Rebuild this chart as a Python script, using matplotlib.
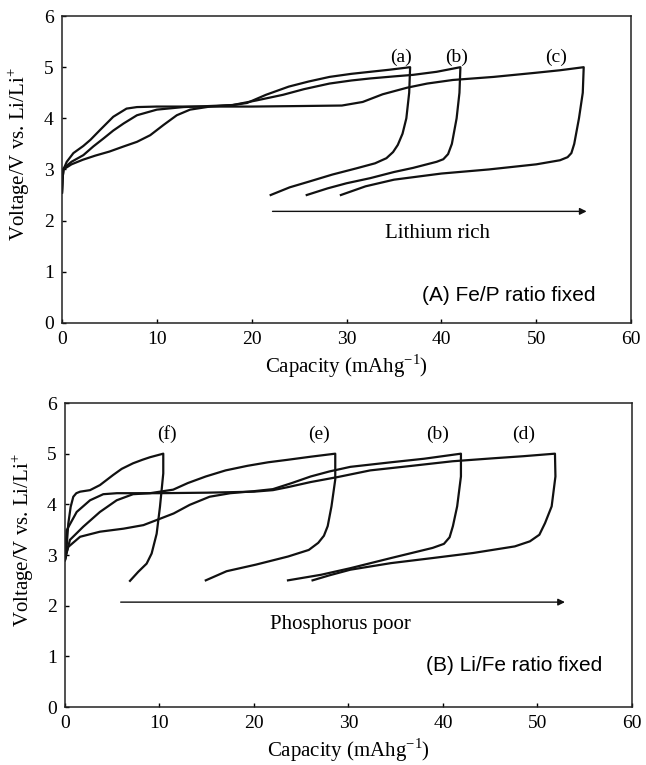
import matplotlib.pyplot as plt

# (A) Fe/P ratio fixed -- charge then discharge
cap_a = [0.0, 0.05, 0.15, 1.0, 2.2, 3.5, 5.0, 6.5, 7.9, 9.3, 10.7, 12.1, 13.5, 15.6, 18.0, 19.5, 21.5,
         23.9, 26.0, 28.2, 30.5, 32.5, 34.5, 36.7,
         36.7, 36.6, 36.3, 35.9, 35.4, 34.9, 34.2, 33.0, 31.0, 28.5, 26.0, 24.0, 22.0]
volt_a = [2.55, 2.8, 3.0, 3.1, 3.19, 3.27, 3.35, 3.45, 3.54, 3.67, 3.87, 4.06, 4.17, 4.23, 4.26, 4.3, 4.46,
          4.62, 4.72, 4.81, 4.87, 4.91, 4.95, 5.0,
          5.0, 4.5, 4.0, 3.7, 3.48, 3.34, 3.22, 3.12, 3.02, 2.9, 2.76, 2.65, 2.5]

cap_b = [0.0, 0.05, 0.15, 1.0, 2.25, 3.3, 4.4, 5.4, 6.5, 7.9, 10.0, 12.8, 15.5, 18.0, 20.5, 23.3, 25.5,
         28.2, 30.5, 32.5, 35.0, 37.0, 39.5, 42.0,
         42.0, 41.9, 41.6, 41.1, 40.7, 40.2, 39.5, 37.0, 35.0, 32.5, 30.0, 28.0, 25.8]
volt_b = [2.55, 2.8, 3.02, 3.15, 3.28, 3.45, 3.61, 3.76, 3.9, 4.06, 4.17, 4.22, 4.24, 4.26, 4.35, 4.46, 4.57,
          4.68, 4.74, 4.78, 4.82, 4.85, 4.91, 5.0,
          5.0, 4.5, 4.0, 3.5, 3.3, 3.2, 3.15, 3.03, 2.95, 2.83, 2.73, 2.63, 2.5]

cap_c = [0.0, 0.05, 0.15, 0.5, 1.2, 2.25, 3.0, 4.0, 5.4, 6.8, 7.9, 10.0, 15.0, 20.0, 25.0, 29.5, 31.7,
         33.8, 36.4, 38.5, 41.2, 45.5, 49.9, 52.5, 55.0,
         55.0, 54.9, 54.5, 54.0, 53.7, 53.3, 52.5, 50.0, 45.0, 40.0, 35.0, 32.0, 29.4]
volt_c = [2.55, 2.8, 3.0, 3.15, 3.32, 3.46, 3.58, 3.77, 4.03, 4.19, 4.22, 4.23, 4.23, 4.23, 4.24, 4.25, 4.32,
          4.47, 4.6, 4.68, 4.75, 4.81, 4.89, 4.94, 5.0,
          5.0, 4.5, 4.0, 3.5, 3.32, 3.24, 3.18, 3.1, 3.0, 2.92, 2.8, 2.67, 2.5]

# (B) Li/Fe ratio fixed
cap_f = [0.0, 0.1, 0.35, 0.6, 0.88, 1.2, 1.6, 2.65, 3.7, 5.1, 6.0, 7.2, 8.2, 9.0, 10.4,
         10.4, 10.05, 9.7, 9.17, 8.64, 7.76, 6.88]
volt_f = [2.9, 2.97, 3.62, 3.95, 4.15, 4.22, 4.25, 4.28, 4.38, 4.58, 4.7, 4.81, 4.88, 4.93, 5.0,
          4.61, 3.95, 3.42, 3.03, 2.83, 2.67, 2.49]

cap_e = [0.0, 0.1, 0.53, 1.94, 3.7, 5.47, 7.2, 9.0, 11.45, 13.0, 14.9, 17.0, 19.3, 21.5, 23.6, 26.0, 28.6,
         28.6, 28.2, 27.8, 27.4, 26.8, 25.8, 23.6, 20.2, 17.1, 14.9]
volt_e = [2.9, 3.0, 3.3, 3.56, 3.85, 4.08, 4.2, 4.22, 4.29, 4.42, 4.55, 4.67, 4.76, 4.83, 4.88, 4.94, 5.0,
          4.49, 3.96, 3.57, 3.38, 3.24, 3.1, 2.97, 2.81, 2.68, 2.5]

cap_b2 = [0.0, 0.1, 0.35, 1.6, 3.7, 6.2, 8.3, 9.7, 11.5, 13.2, 15.3, 17.5, 20.0, 22.0, 24.0, 26.0, 28.0,
          30.2, 34.5, 38.0, 41.9,
          41.9, 41.5, 41.05, 40.7, 40.1, 38.9, 34.5, 30.2, 27.1, 23.6]
volt_b2 = [2.9, 3.0, 3.16, 3.36, 3.46, 3.52, 3.59, 3.69, 3.82, 3.99, 4.15, 4.22, 4.26, 4.3, 4.42, 4.55, 4.65,
           4.74, 4.83, 4.9, 5.0,
           4.55, 3.96, 3.57, 3.35, 3.22, 3.14, 2.94, 2.74, 2.61, 2.5]

cap_d = [0.0, 0.05, 0.18, 1.24, 2.65, 4.05, 5.5, 10.0, 15.0, 20.0, 22.0, 23.6, 26.0, 28.9, 32.3, 36.7, 41.0,
         45.4, 48.5, 51.85,
         51.9, 51.5, 50.8, 50.2, 49.2, 47.6, 43.2, 38.9, 34.5, 30.2, 28.0, 26.2]
volt_d = [3.0, 3.1, 3.49, 3.85, 4.08, 4.2, 4.22, 4.22, 4.23, 4.25, 4.28, 4.34, 4.44, 4.54, 4.67, 4.76, 4.85,
          4.91, 4.95, 5.0,
          4.55, 3.96, 3.63, 3.4, 3.27, 3.17, 3.04, 2.94, 2.84, 2.71, 2.6, 2.5]

labels_top = ["(a)", "(b)", "(c)"]
label_x_top = [35.7, 41.6, 52.1]
labels_bot = ["(f)", "(e)", "(b)", "(d)"]
label_x_bot = [10.8, 26.9, 39.4, 48.5]

serif = "Liberation Serif"
sans = "Liberation Sans"

fig = plt.figure(figsize=(6.46, 7.65), dpi=100)
ax1 = fig.add_axes([0.096, 0.578, 0.881, 0.401])
ax2 = fig.add_axes([0.1006, 0.0758, 0.8777, 0.3974])

for ax in (ax1, ax2):
    ax.set_xlim(0, 60)
    ax.set_ylim(0, 6)
    ax.set_xticks(range(0, 61, 10))
    ax.set_yticks(range(0, 7))
    ax.tick_params(direction="in", length=3, width=1, top=False, right=False, pad=6)
    for lab in ax.get_xticklabels() + ax.get_yticklabels():
        lab.set_fontfamily(serif)
        lab.set_fontsize(14)
    for sp in ax.spines.values():
        sp.set_linewidth(1.1)
        sp.set_color("#222222")
    ax.set_xlabel("Capacity (mAhg$^{\\mathregular{-1}}$)", fontfamily=serif, fontsize=15, labelpad=3)
    ax.set_ylabel("Voltage/V vs. Li/Li$^{\\mathregular{+}}$", fontfamily=serif, fontsize=15)
    ax.yaxis.set_label_coords(-0.052, 0.55)

for c, v in [(cap_a, volt_a), (cap_b, volt_b), (cap_c, volt_c)]:
    ax1.plot(c, v, color="#111111", lw=1.6, solid_joinstyle="round")
for c, v in [(cap_f, volt_f), (cap_e, volt_e), (cap_b2, volt_b2), (cap_d, volt_d)]:
    ax2.plot(c, v, color="#111111", lw=1.6, solid_joinstyle="round")

for t, x in zip(labels_top, label_x_top):
    ax1.text(x, 5.19, t, ha="center", va="center", fontfamily=serif, fontsize=14)
for t, x in zip(labels_bot, label_x_bot):
    ax2.text(x, 5.38, t, ha="center", va="center", fontfamily=serif, fontsize=14)

ax1.annotate("", xy=(55.6, 2.18), xytext=(21.9, 2.18),
             arrowprops=dict(arrowstyle="-|>", color="#111111", lw=1.0, mutation_scale=10))
ax1.text(39.6, 1.75, "Lithium rich", ha="center", va="center", fontfamily=serif, fontsize=15)
ax1.text(56.2, 0.53, "(A) Fe/P ratio fixed", ha="right", va="center", fontfamily=sans, fontsize=15)

ax2.annotate("", xy=(53.2, 2.07), xytext=(5.6, 2.07),
             arrowprops=dict(arrowstyle="-|>", color="#111111", lw=1.0, mutation_scale=10))
ax2.text(29.1, 1.62, "Phosphorus poor", ha="center", va="center", fontfamily=serif, fontsize=15)
ax2.text(56.9, 0.82, "(B) Li/Fe ratio fixed", ha="right", va="center", fontfamily=sans, fontsize=15)

plt.savefig("out.png", dpi=100)
